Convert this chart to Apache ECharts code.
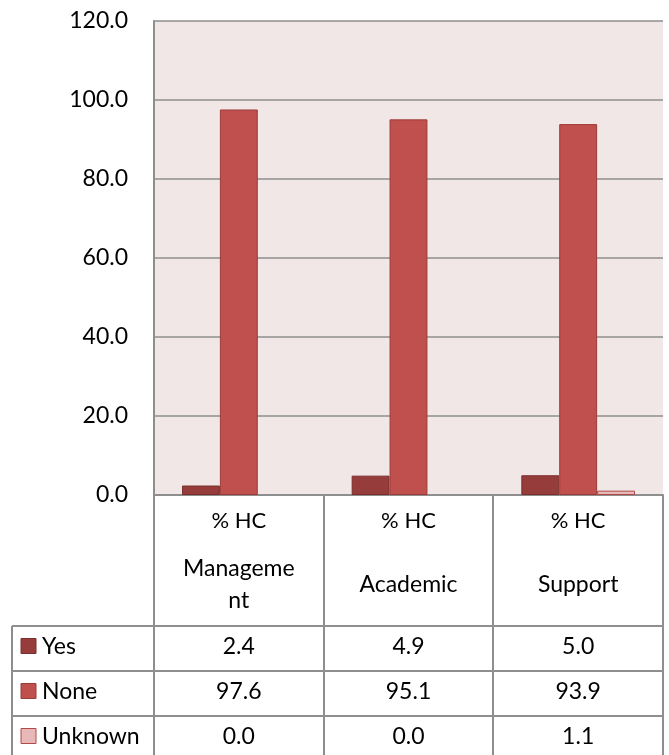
<!DOCTYPE html>
<html>
<head>
<meta charset="utf-8">
<script src="https://cdn.jsdelivr.net/npm/echarts@6/dist/echarts.min.js"></script>
<style>
  html, body { margin: 0; padding: 0; background: #fff; }
  #chart { width: 669px; height: 755px; }
</style>
</head>
<body>
<div id="chart"></div>
<script>
  // data
  var categories = ['Management', 'Academic', 'Support'];
  var headerTop = ['% HC', '% HC', '% HC'];
  var headerName = ['Manageme\nnt', 'Academic', 'Support'];
  var seriesNames = ['Yes', 'None', 'Unknown'];
  var yesValues = [2.4, 4.9, 5.0];
  var noneValues = [97.6, 95.1, 93.9];
  var unknownValues = [0.0, 0.0, 1.1];
  var yMin = 0, yMax = 120, yStep = 20;

  var colors = ['#963c3a', '#c0504d', '#e6b9b8'];
  var borders = ['#7b2e2c', '#9b3b38', '#b24a47'];
  var FONT = 'Lato';
  var FS = 23;
  var lineColor = '#8e8e8e';

  var gridLeft = 154, gridRight = 663, gridTop = 21, gridBottom = 495;

  var myChart = echarts.init(document.getElementById('chart'), null, { renderer: 'canvas' });

  var allValues = [yesValues, noneValues, unknownValues];
  var series = seriesNames.map(function (name, i) {
    return {
      name: name,
      type: 'bar',
      barGap: '0%',
      barCategoryGap: '33%',
      itemStyle: { color: colors[i], borderColor: borders[i], borderWidth: 1 },
      // zero bars draw nothing in the original
      data: allValues[i].map(function (v) {
        return v === 0 ? { value: v, itemStyle: { borderWidth: 0 } } : v;
      })
    };
  });

  myChart.setOption({
    animation: false,
    backgroundColor: '#fff',
    grid: {
      left: gridLeft, right: 669 - gridRight, top: gridTop, bottom: 755 - gridBottom,
      show: true, backgroundColor: '#f2e7e7', borderWidth: 0
    },
    xAxis: {
      type: 'category',
      data: categories,
      axisLine: { show: true, lineStyle: { color: lineColor, width: 2 } },
      axisTick: { show: false },
      axisLabel: { show: false },
      splitLine: { show: false }
    },
    yAxis: {
      type: 'value',
      min: yMin, max: yMax, interval: yStep,
      axisLine: { show: true, lineStyle: { color: lineColor, width: 2 } },
      axisTick: { show: false },
      axisLabel: {
        margin: 26, fontFamily: FONT, fontSize: FS, color: '#000',
        formatter: function (v) { return v.toFixed(1); }
      },
      splitLine: { show: true, lineStyle: { color: lineColor, width: 1.5 } }
    },
    series: series
  });

  // data table under the plot
  var colW = (gridRight - gridLeft) / categories.length;
  var rowTop = 626, rowH = 45, tableLeft = 12;
  var g = [];
  var lineStyle = { stroke: lineColor, lineWidth: 2 };

  for (var c = 0; c <= categories.length; c++) {
    var x = Math.round(gridLeft + c * colW);
    g.push({ type: 'line', shape: { x1: x, y1: gridBottom, x2: x, y2: 755 }, style: lineStyle });
  }
  g.push({ type: 'line', shape: { x1: tableLeft, y1: rowTop, x2: tableLeft, y2: 755 }, style: lineStyle });
  for (var r = 0; r < seriesNames.length; r++) {
    var yy = rowTop + r * rowH;
    g.push({ type: 'line', shape: { x1: tableLeft, y1: yy, x2: gridRight, y2: yy }, style: lineStyle });
  }

  categories.forEach(function (cat, i) {
    var cx = myChart.convertToPixel({ xAxisIndex: 0 }, cat);
    g.push({ type: 'text', x: cx, y: 521, style: {
      text: headerTop[i], fontFamily: FONT, fontSize: FS - 1, fill: '#000', align: 'center', verticalAlign: 'middle' } });
    g.push({ type: 'text', x: cx, y: 585, style: {
      text: headerName[i], fontFamily: FONT, fontSize: FS, lineHeight: 32, fill: '#000', align: 'center', verticalAlign: 'middle' } });
    allValues.forEach(function (vals, r) {
      g.push({ type: 'text', x: cx, y: rowTop + r * rowH + 21, style: {
        text: vals[i].toFixed(1), fontFamily: FONT, fontSize: FS, fill: '#000', align: 'center', verticalAlign: 'middle' } });
    });
  });

  seriesNames.forEach(function (name, r) {
    var cy = rowTop + r * rowH + 20;
    g.push({ type: 'rect', shape: { x: 21, y: cy - 7.5, width: 15, height: 15 },
      style: { fill: colors[r], stroke: borders[r], lineWidth: 1 } });
    g.push({ type: 'text', x: 42, y: cy + 1, style: {
      text: name, fontFamily: FONT, fontSize: FS, fill: '#000', align: 'left', verticalAlign: 'middle' } });
  });

  myChart.setOption({ graphic: g });
  window.addEventListener('resize', function () { myChart.resize(); });
</script>
</body>
</html>
